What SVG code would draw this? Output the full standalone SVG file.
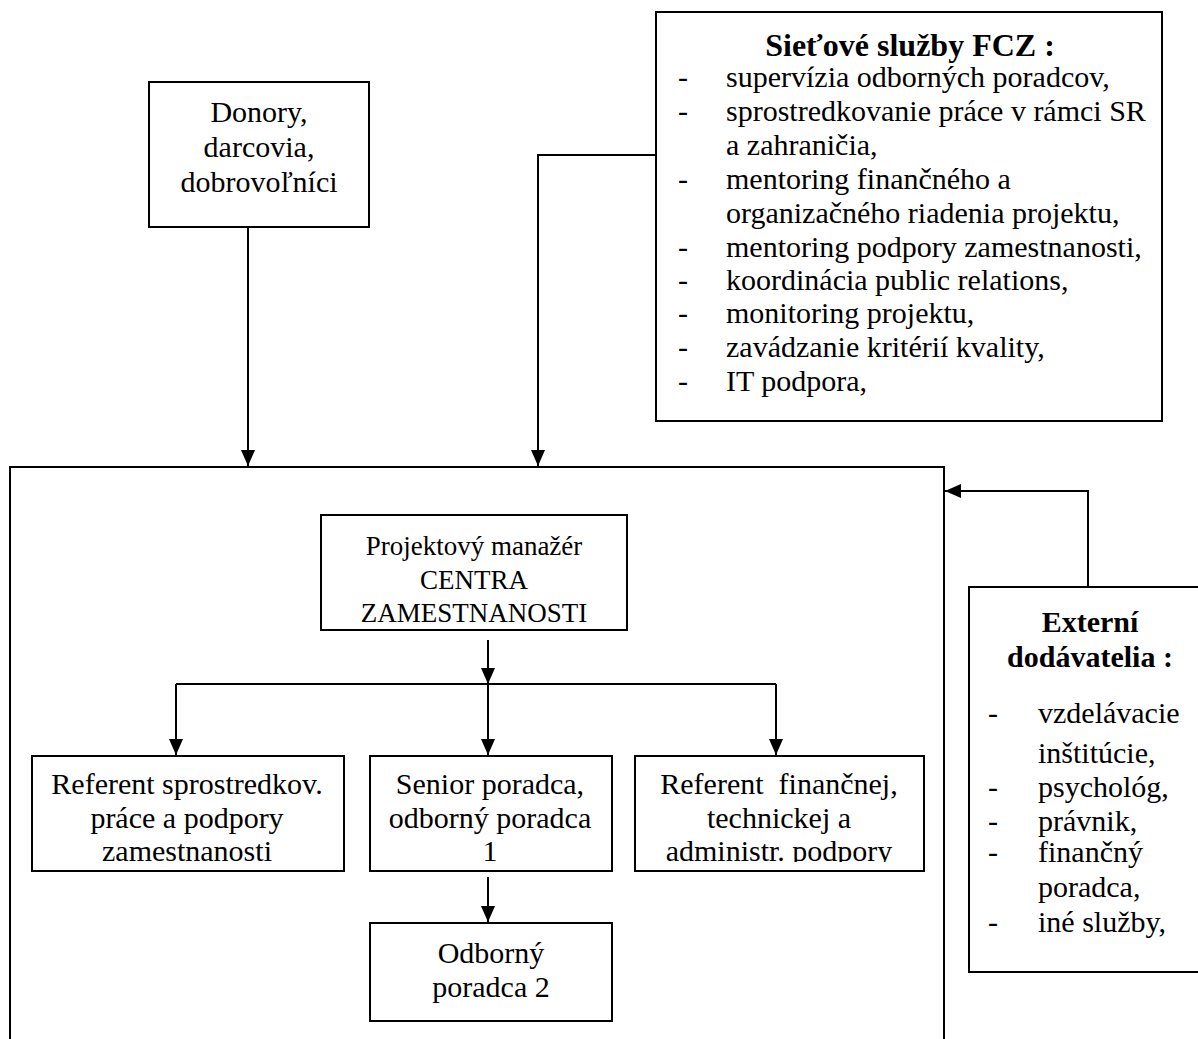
<svg xmlns="http://www.w3.org/2000/svg" width="1198" height="1039" viewBox="0 0 1198 1039">
<style>
.box{fill:#fff;stroke:#000;stroke-width:2}
.t{font-family:"Liberation Serif","Times New Roman",serif;font-size:30px;fill:#000}
.c{text-anchor:middle}
.b{font-weight:bold}
.s{font-size:27px}
.ttl{font-size:32px}
.ln{fill:none;stroke:#000;stroke-width:2}
</style>
<defs>
<marker id="ah" viewBox="0 0 16 14" refX="16" refY="7" markerWidth="16" markerHeight="14" markerUnits="userSpaceOnUse" orient="auto">
<path d="M0,0 L16,7 L0,14 Z" fill="#000"/>
</marker>
<clipPath id="clipRow"><rect x="0" y="756" width="950" height="106"/></clipPath>
</defs>
<rect width="1198" height="1039" fill="#fff"/>

<g id="main-box"><rect class="box" x="10" y="467" width="934" height="590"/></g>

<g id="sietove">
<rect class="box" x="656" y="12" width="506" height="409"/>
<text class="t b c ttl" x="910" y="56">Sieťové služby FCZ :</text>
<g class="t">
<text x="678" y="87">-</text><text x="726" y="87">supervízia odborných poradcov,</text>
<text x="678" y="121">-</text><text x="726" y="121">sprostredkovanie práce v rámci SR</text>
<text x="726" y="155">a zahraničia,</text>
<text x="678" y="189">-</text><text x="726" y="189">mentoring finančného a</text>
<text x="726" y="223">organizačného riadenia projektu,</text>
<text x="678" y="257">-</text><text x="726" y="257">mentoring podpory zamestnanosti,</text>
<text x="678" y="290">-</text><text x="726" y="290">koordinácia public relations,</text>
<text x="678" y="323">-</text><text x="726" y="323">monitoring projektu,</text>
<text x="678" y="357">-</text><text x="726" y="357">zavádzanie kritérií kvality,</text>
<text x="678" y="391">-</text><text x="726" y="391">IT podpora,</text>
</g>
</g>

<g id="donory">
<rect class="box" x="149" y="82" width="220" height="145"/>
<text class="t c" x="259" y="122">Donory,</text>
<text class="t c" x="259" y="157">darcovia,</text>
<text class="t c" x="259" y="192">dobrovoľníci</text>
</g>

<g id="projektovy">
<rect class="box" x="321" y="515" width="306" height="115"/>
<text class="t s c" x="474" y="555">Projektový manažér</text>
<text class="t s c" x="474" y="589">CENTRA</text>
<text class="t s c" x="474" y="622">ZAMESTNANOSTI</text>
</g>

<g id="referent-sprostredkov">
<rect class="box" x="32" y="756" width="312" height="115"/>
<g clip-path="url(#clipRow)">
<text class="t c" x="187" y="794">Referent sprostredkov.</text>
<text class="t c" x="187" y="828">práce a podpory</text>
<text class="t c" x="187" y="861">zamestnanosti</text>
</g>
</g>

<g id="senior">
<rect class="box" x="370" y="756" width="242" height="115"/>
<g clip-path="url(#clipRow)">
<text class="t c" x="490" y="794">Senior poradca,</text>
<text class="t c" x="490" y="828">odborný poradca</text>
<text class="t c" x="490" y="861">1</text>
</g>
</g>

<g id="referent-financnej">
<rect class="box" x="635" y="756" width="289" height="115"/>
<g clip-path="url(#clipRow)">
<text class="t c" x="779" y="794" style="white-space:pre">Referent  finančnej,</text>
<text class="t c" x="779" y="828">technickej a</text>
<text class="t c" x="779" y="861">administr. podpory</text>
</g>
</g>

<g id="odborny2">
<rect class="box" x="370" y="923" width="242" height="98"/>
<text class="t c" x="491" y="963">Odborný</text>
<text class="t c" x="491" y="997">poradca 2</text>
</g>

<g id="externi">
<rect class="box" x="969" y="587" width="240" height="385"/>
<text class="t b c" x="1090" y="632">Externí</text>
<text class="t b c" x="1090" y="667">dodávatelia :</text>
<g class="t">
<text x="988" y="723">-</text><text x="1038" y="723">vzdelávacie</text>
<text x="1038" y="763">inštitúcie,</text>
<text x="988" y="797">-</text><text x="1038" y="797">psychológ,</text>
<text x="988" y="831">-</text><text x="1038" y="831">právnik,</text>
<text x="988" y="862">-</text><text x="1038" y="862">finančný</text>
<text x="1038" y="897">poradca,</text>
<text x="988" y="932">-</text><text x="1038" y="932">iné služby,</text>
</g>
</g>

<g id="connectors">
<path class="ln" d="M248,227 V466" marker-end="url(#ah)"/>
<path class="ln" d="M656,155 H538 V466" marker-end="url(#ah)"/>
<path class="ln" d="M1088,587 V491 H945" marker-end="url(#ah)"/>
<path class="ln" d="M488,640 V684" marker-end="url(#ah)"/>
<path class="ln" d="M176,684 H776"/>
<path class="ln" d="M176,684 V755" marker-end="url(#ah)"/>
<path class="ln" d="M488,684 V755" marker-end="url(#ah)"/>
<path class="ln" d="M776,684 V755" marker-end="url(#ah)"/>
<path class="ln" d="M488,877 V922" marker-end="url(#ah)"/>
</g>
</svg>
